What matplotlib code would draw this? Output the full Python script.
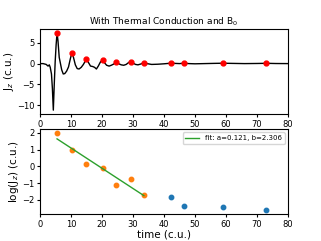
import numpy as np
import matplotlib
matplotlib.use("Agg")
import matplotlib.pyplot as plt
from matplotlib.ticker import MultipleLocator

# Jz(t)
t_curve = [0, 1, 2, 2.6, 3.0, 3.3, 3.7, 4.0, 4.3, 4.6, 4.9, 5.2, 5.5, 5.8, 6.2, 6.6,
           7.0, 7.5, 8.0, 8.6, 9.2, 9.8, 10.3, 10.8, 11.4, 12.0, 12.6, 13.3, 14.0,
           14.6, 15.0, 15.6, 16.3, 17.0, 17.6, 18.2, 18.8, 19.5, 20.2, 20.8, 21.5,
           22.3, 23.0, 23.8, 24.5, 25.3, 26.2, 27.0, 27.8, 28.5, 29.2, 29.9, 30.8,
           31.6, 32.5, 33.5, 34.5, 36.0, 38.0, 40.0, 41.5, 42.3, 43.5, 45.0, 46.5,
           48.0, 50.0, 53.0, 56.0, 59.0, 62.0, 66.0, 70.0, 73.0, 76.0, 80.0]
jz_curve = [0, 0, -0.2, -0.6, -0.3, -0.9, -2.5, -6.0, -11.2, -5.0, 0.5, 4.5, 7.4, 5.5,
            1.5, 0.0, -1.5, -2.5, -2.4, -1.8, -0.8, 1.2, 2.6, 1.5, -0.3, -1.2, -1.3,
            -0.9, -0.2, 0.6, 1.1, 0.3, -0.6, -0.7, -0.9, -1.3, -0.6, 0.4, 0.9, 0.2,
            -0.4, -0.6, -0.4, -0.1, 0.3, 0.0, -0.3, -0.4, -0.2, 0.2, 0.5, 0.2, -0.2,
            -0.3, -0.1, 0.2, 0.0, -0.2, -0.15, -0.05, 0.05, 0.15, 0.05, 0.0, 0.1,
            0.0, -0.05, 0.0, 0.05, 0.09, 0.05, 0.0, 0.03, 0.07, 0.02, 0.0]

# detected peaks
t_peaks = [5.5, 10.3, 15.0, 20.2, 24.5, 29.2, 33.5, 42.3, 46.5, 59.0, 73.0]
jz_peaks = [7.39, 2.59, 1.16, 0.89, 0.33, 0.47, 0.18, 0.157, 0.093, 0.088, 0.073]
n_fit = 7

fit_a = 0.121
fit_b = 2.306

fig = plt.figure(figsize=(3.21, 2.41), dpi=100)
ax1 = fig.add_axes([0.1246, 0.527, 0.7726, 0.3527])
ax2 = fig.add_axes([0.1246, 0.112, 0.7726, 0.3527])

ax1.plot(t_curve, jz_curve, color="black", lw=1.0)
ax1.plot(t_peaks, jz_peaks, "o", color="red", ms=3.5)
ax1.set_xlim(0, 80)
ax1.set_title(r"With Thermal Conduction and B$_0$", fontsize=6.5, pad=3)
ax1.set_ylabel(r"J$_z$ (c.u.)", fontsize=7.5, labelpad=1)

log_peaks = np.log(jz_peaks)
t_arr = np.array(t_peaks)
ax2.plot(t_arr[n_fit:], log_peaks[n_fit:], "o", color="C0", ms=3.2)
ax2.plot(t_arr[:n_fit], log_peaks[:n_fit], "o", color="C1", ms=3.2)
t_fit = t_arr[:n_fit]
ax2.plot(t_fit, fit_b - fit_a * t_fit, color="C2", lw=1.0,
         label="fit: a=%.3f, b=%.3f" % (fit_a, fit_b))
ax2.set_xlim(0, 80)
ax2.yaxis.set_major_locator(MultipleLocator(1))
ax2.set_xlabel("time (c.u.)", fontsize=7.5, labelpad=1)
ax2.set_ylabel(r"log(J$_z$) (c.u.)", fontsize=7.5, labelpad=1)
ax2.legend(loc="upper right", fontsize=5)

for ax in (ax1, ax2):
    ax.tick_params(labelsize=6, length=2.5, pad=1.5)

fig.savefig("out.png", dpi=100)
